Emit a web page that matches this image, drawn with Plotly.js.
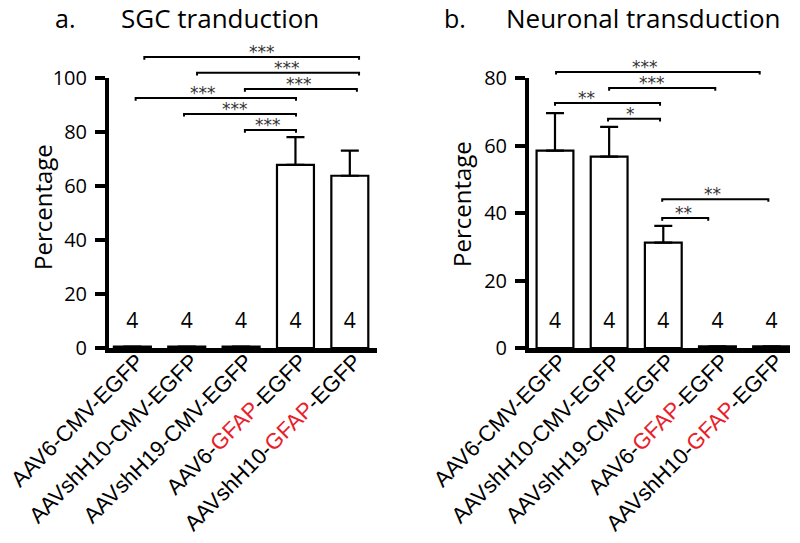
<!DOCTYPE html>
<html><head><meta charset="utf-8">
<script src="https://cdn.plot.ly/plotly-3.0.1.min.js"></script>
<style>html,body{margin:0;padding:0;background:#fff}#chart{width:800px;height:543px}</style>
</head><body><div id="chart"></div>
<script>
// ---- data ----
const categories = ['AAV6-CMV-EGFP','AAVshH10-CMV-EGFP','AAVshH19-CMV-EGFP','AAV6-GFAP-EGFP','AAVshH10-GFAP-EGFP'];
const highlightWord = 'GFAP';
const sgcMean = [0.5, 0.5, 0.5, 67.8, 63.8];
const sgcErr  = [0, 0, 0, 10.3, 9.3];
const neuMean = [58.5, 56.7, 31.2, 0.5, 0.5];
const neuErr  = [11.1, 8.8, 5.0, 0, 0];
const nPerGroup = [4, 4, 4, 4, 4];
const sgcTicks = [0, 20, 40, 60, 80, 100];
const neuTicks = [0, 20, 40, 60, 80];

// significance brackets (x in category index, y in percentage)
const sgcBrFrom  = [0.22, 1.19, 2.07, 0.06, 0.95, 2.07];
const sgcBrTo    = [4.17, 4.17, 4.13, 3.01, 3.01, 3.01];
const sgcBrY     = [107.8, 101.9, 95.9, 92.6, 86.7, 80.7];
const sgcBrText  = ['***','***','***','***','***','***'];
const sgcBrTextX = [2.39, 2.84, 3.06, 1.30, 1.89, 2.50];

const neuBrFrom  = [0.02, 1.00, 0.00, 0.98, 1.98, 1.98];
const neuBrTo    = [3.78, 2.96, 1.94, 1.94, 3.94, 2.83];
const neuBrY     = [81.8, 77.0, 72.6, 67.9, 44.1, 38.5];
const neuBrText  = ['***','***','**','*','**','**'];
const neuBrTextX = [1.67, 1.80, 0.59, 1.39, 2.91, 2.37];

// ---- build ----
const idx = categories.map((_, i) => i);
const tickText = categories.map(c => c.replace(highlightWord, '<span style="color:#e8202a">' + highlightWord + '</span>'));
const W = 800, H = 543;
const plotTopPx = 78, plotBotPx = 348, bracketTopPx = 35;
const sgcMax = sgcTicks[sgcTicks.length - 1], neuMax = neuTicks[neuTicks.length - 1];
const stretch = (plotBotPx - bracketTopPx) / (plotBotPx - plotTopPx);

function barTrace(mean, err, xa, ya) {
  return {
    type: 'bar', x: idx, y: mean, xaxis: xa, yaxis: ya, width: 0.68,
    marker: {color: mean.map(v => v < 1 ? '#000' : '#fff'), line: {color: '#000', width: 2.2}},
    error_y: {type: 'data', symmetric: false, array: err, arrayminus: err.map(() => 0),
              color: '#000', thickness: 2.2, width: 9, visible: true},
    hoverinfo: 'skip', showlegend: false
  };
}
function nTrace(yPos, xa, ya) {
  return {type: 'scatter', mode: 'text', x: idx, y: idx.map(() => yPos), text: nPerGroup.map(String),
          textfont: {family: 'Open Sans', size: 21, color: '#000'}, xaxis: xa, yaxis: ya,
          cliponaxis: false, showlegend: false, hoverinfo: 'skip'};
}
function bracketTraces(from, to, yy, drop, xa, ya) {
  return from.map((f, i) => ({
    type: 'scatter', mode: 'lines', x: [f, f, to[i], to[i]], y: [yy[i] - drop, yy[i], yy[i], yy[i] - drop],
    line: {color: '#000', width: 2}, xaxis: xa, yaxis: ya, cliponaxis: false,
    showlegend: false, hoverinfo: 'skip'
  }));
}
function starAnns(tx, yy, txt, xa, ya) {
  return tx.map((x, i) => ({
    x: x, y: yy[i], xref: xa, yref: ya, text: txt[i], showarrow: false,
    xanchor: 'center', yanchor: 'bottom', yshift: -7, font: {family: 'DejaVu Sans', size: 17, color: '#333'}
  }));
}
function titleAnn(x, y, text, size, angle) {
  return {x: x / W, y: 1 - y / H, xref: 'paper', yref: 'paper', text: text, showarrow: false,
          xanchor: 'center', yanchor: 'middle', textangle: angle || 0,
          font: {family: 'Open Sans', size: size, color: '#000'}};
}

const data = [
  barTrace(sgcMean, sgcErr, 'x', 'y'),
  barTrace(neuMean, neuErr, 'x2', 'y2'),
  nTrace(9.3, 'x', 'y'),
  nTrace(7.4, 'x2', 'y2'),
  ...bracketTraces(sgcBrFrom, sgcBrTo, sgcBrY, 1.0, 'x3', 'y3'),
  ...bracketTraces(neuBrFrom, neuBrTo, neuBrY, 0.8, 'x4', 'y4')
];

const yDom = [(H - plotBotPx) / H, (H - plotTopPx) / H];
const yDomTall = [(H - plotBotPx) / H, (H - bracketTopPx) / H];
const xDomA = [109 / W, 377 / W], xDomB = [529 / W, 790 / W];
const xRangeA = [-0.43, 4.5], xRangeB = [-0.48, 4.34];
const xAxisBase = {
  tickmode: 'array', tickvals: idx, ticktext: tickText, tickangle: -45,
  tickfont: {family: 'Liberation Sans', size: 22, color: '#000'},
  ticklabeloverflow: 'allow', ticklabelstandoff: -13, ticklabelshift: 5,
  showline: true, linewidth: 5, linecolor: '#000', ticks: '', showgrid: false, zeroline: false,
  fixedrange: true
};
const yAxisBase = {
  showline: true, linewidth: 4, linecolor: '#000', ticks: 'outside', ticklen: 10, tickwidth: 4,
  tickcolor: '#000', tickfont: {family: 'Open Sans', size: 20, color: '#000'}, ticklabelstandoff: 4,
  showgrid: false, zeroline: false, domain: yDom, fixedrange: true
};
const hidden = {visible: false, fixedrange: true, showgrid: false, zeroline: false};

const layout = {
  width: W, height: H, margin: {l: 0, r: 0, t: 0, b: 0},
  paper_bgcolor: '#fff', plot_bgcolor: 'rgba(0,0,0,0)', showlegend: false,
  xaxis: Object.assign({}, xAxisBase, {domain: xDomA, range: xRangeA, anchor: 'y'}),
  yaxis: Object.assign({}, yAxisBase, {range: [0, sgcMax], tickvals: sgcTicks, anchor: 'x'}),
  xaxis2: Object.assign({}, xAxisBase, {domain: xDomB, range: xRangeB, anchor: 'y2'}),
  yaxis2: Object.assign({}, yAxisBase, {range: [0, neuMax], tickvals: neuTicks, anchor: 'x2'}),
  xaxis3: Object.assign({}, hidden, {domain: xDomA, range: xRangeA, anchor: 'y3'}),
  yaxis3: Object.assign({}, hidden, {domain: yDomTall, range: [0, sgcMax * stretch], anchor: 'x3'}),
  xaxis4: Object.assign({}, hidden, {domain: xDomB, range: xRangeB, anchor: 'y4'}),
  yaxis4: Object.assign({}, hidden, {domain: yDomTall, range: [0, neuMax * stretch], anchor: 'x4'}),
  annotations: [
    titleAnn(65, 18, 'a.', 25),
    titleAnn(220, 18, 'SGC tranduction', 26),
    titleAnn(455, 18, 'b.', 25),
    titleAnn(643, 18, 'Neuronal transduction', 26),
    titleAnn(42, 207, 'Percentage', 24, -90),
    titleAnn(462, 204, 'Percentage', 24, -90),
    ...starAnns(sgcBrTextX, sgcBrY, sgcBrText, 'x3', 'y3'),
    ...starAnns(neuBrTextX, neuBrY, neuBrText, 'x4', 'y4')
  ]
};

Plotly.newPlot('chart', data, layout, {displayModeBar: false, staticPlot: true});
</script></body></html>
